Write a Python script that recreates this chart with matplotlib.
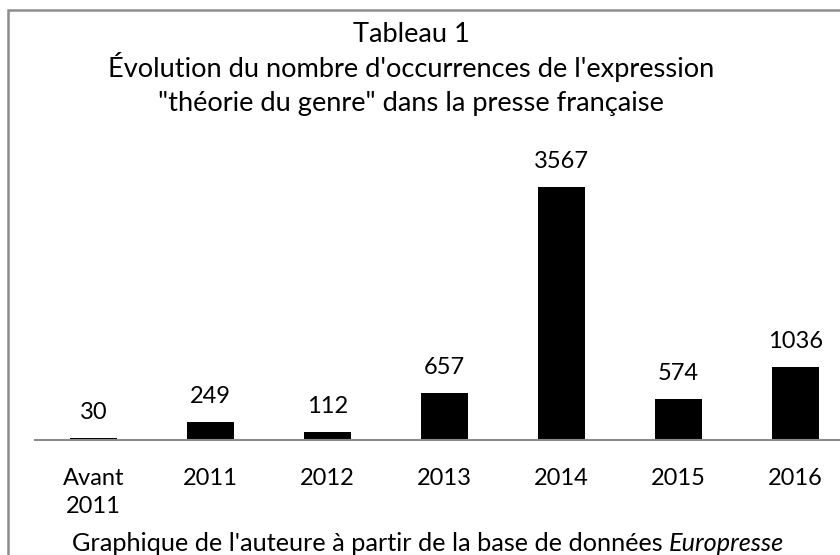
import matplotlib
matplotlib.use("Agg")
import matplotlib.pyplot as plt
from matplotlib.patches import Rectangle

plt.rcParams['font.family'] = ['Lato', 'DejaVu Sans']

categories = ["Avant\n2011", "2011", "2012", "2013", "2014", "2015", "2016"]
occurrences = [30, 249, 112, 657, 3567, 574, 1036]
title_lines = [
    "Tableau 1",
    "Évolution du nombre d'occurrences de l'expression",
    "\"théorie du genre\" dans la presse française",
]

W, H = 840, 555
fig = plt.figure(figsize=(W / 100, H / 100), dpi=100)

# gray frame, right and bottom edges fall outside the picture
fig.add_artist(Rectangle((8 / W, -0.1), 1.2, 1 - 9.5 / H + 0.1, transform=fig.transFigure,
                         fill=False, edgecolor="#8c8c8c", linewidth=1.8))

# axes extends a bit past the right edge, as in the original
ax = fig.add_axes([35 / W, 115 / H, 819 / W, 283.6 / H])
x = list(range(len(categories)))
bars = ax.bar(x, occurrences, width=0.4, color="black")
ax.set_xlim(-0.5, len(categories) - 0.5)
ax.set_ylim(0, 4000)

for b, v in zip(bars, occurrences):
    ax.annotate(str(v), (b.get_x() + b.get_width() / 2, v), xytext=(0, 13.7),
                textcoords="offset points", ha="center", va="baseline", fontsize=17)

ax.set_xticks(x)
ax.set_xticklabels(categories, fontsize=17, linespacing=1.44)
ax.tick_params(axis="x", length=0, pad=20)
ax.set_yticks([])
for s in ["top", "right", "left"]:
    ax.spines[s].set_visible(False)
ax.spines["bottom"].set_color("#8c8c8c")
ax.spines["bottom"].set_linewidth(1.5)

for i, line in enumerate(title_lines):
    fig.text(411 / W, 1 - (42.3 + 34.5 * i) / H, line,
             ha="center", va="baseline", fontsize=19.6)

# caption with the source name in italics
r = fig.canvas.get_renderer()
t1 = fig.text(0, 1 - 551 / H, "Graphique de l'auteure à partir de la base de données ",
              ha="left", va="baseline", fontsize=18.2)
t2 = fig.text(0, 1 - 551 / H, "Europresse", ha="left", va="baseline", fontsize=18.2,
              style="italic")
w1 = t1.get_window_extent(r).width
w2 = t2.get_window_extent(r).width
x0 = 428 - (w1 + w2) / 2
t1.set_x(x0 / W)
t2.set_x((x0 + w1) / W)

fig.savefig("out.png", dpi=100)
